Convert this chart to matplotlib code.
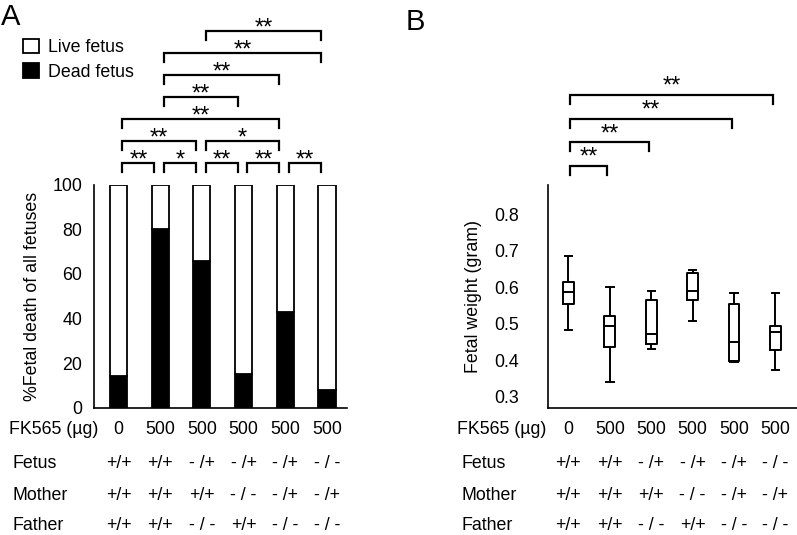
import matplotlib
matplotlib.use("Agg")
import matplotlib.pyplot as plt
import matplotlib.transforms as mtransforms

plt.rcParams['font.family'] = ['Liberation Sans', 'DejaVu Sans']

# ---------------- data ----------------
fk565 = ["0", "500", "500", "500", "500", "500"]
fetus = ["+/+", "+/+", "- /+", "- /+", "- /+", "- / -"]
mother = ["+/+", "+/+", "+/+", "- / -", "- /+", "- /+"]
father = ["+/+", "+/+", "- / -", "+/+", "- / -", "- / -"]

dead_pct = [14, 80, 66, 15, 43, 8]
live_pct = [100 - d for d in dead_pct]

# box plot statistics (fetal weight, gram)
w_whislo = [0.483, 0.341, 0.431, 0.508, 0.396, 0.373]
w_q1 = [0.553, 0.435, 0.444, 0.565, 0.399, 0.428]
w_med = [0.588, 0.494, 0.471, 0.591, 0.451, 0.476]
w_q3 = [0.614, 0.522, 0.565, 0.640, 0.554, 0.495]
w_whishi = [0.686, 0.600, 0.590, 0.647, 0.585, 0.583]

# significance comparisons (group i, group j, label), bottom to top
sig_a = [[(0, 1, "**"), (1, 2, "*"), (2, 3, "**"), (3, 4, "**"), (4, 5, "**")],
         [(0, 2, "**"), (2, 4, "*")],
         [(0, 4, "**")],
         [(1, 3, "**")],
         [(1, 4, "**")],
         [(1, 5, "**")],
         [(2, 5, "**")]]
sig_b = [[(0, 1, "**")], [(0, 2, "**")], [(0, 4, "**")], [(0, 5, "**")]]

# ---------------- figure ----------------
W, H = 797, 535
fig = plt.figure(figsize=(W / 100, H / 100), dpi=100)

def fx(px):
    return px / W

def fy(py):
    return 1 - py / H

FS = 12.8
STAR_FS = 17

axA = fig.add_axes([fx(94), fy(407.5), fx(347) - fx(94), fy(185) - fy(407.5)])
axB = fig.add_axes([fx(547.7), fy(407.7), 1 - fx(547.7), fy(185) - fy(407.7)])

xs = list(range(len(dead_pct)))

# ---- panel A ----
b_dead = axA.bar(xs, dead_pct, width=0.41, color="black", edgecolor="black",
                 linewidth=1.3, label="Dead fetus")
b_live = axA.bar(xs, live_pct, bottom=dead_pct, width=0.41, color="white",
                 edgecolor="black", linewidth=1.3, label="Live fetus")
axA.set_xlim(-0.59, 5.48)
axA.set_ylim(0, 100)
axA.set_yticks([0, 20, 40, 60, 80, 100])
axA.set_xticks([])
axA.tick_params(axis="y", length=0, pad=8.5, labelsize=FS)
axA.set_ylabel("%Fetal death of all fetuses", fontsize=FS, labelpad=8)
for s in ["top", "right"]:
    axA.spines[s].set_visible(False)
for s in ["left", "bottom"]:
    axA.spines[s].set_linewidth(1.2)

leg = axA.legend(handles=[b_live, b_dead], loc="upper left",
                 bbox_to_anchor=(fx(22.5), fy(39)), bbox_transform=fig.transFigure,
                 frameon=False, fontsize=FS, handlelength=0.95, handleheight=0.85,
                 handletextpad=0.5, labelspacing=0.4, borderpad=0, borderaxespad=0)

def draw_brackets(ax, rows, base, step, tick, loff, roff, star_off):
    for k, row in enumerate(rows):
        y = base + k * step
        for (i, j, lab) in row:
            x0, x1 = i + loff, j - roff
            ax.plot([x0, x0, x1, x1], [y - tick, y, y, y - tick], color="black",
                    linewidth=1.6, clip_on=False, solid_joinstyle="miter")
            ax.text((x0 + x1) / 2, y + star_off, lab, ha="center", va="center",
                    fontsize=STAR_FS, clip_on=False)

draw_brackets(axA, sig_a, base=110, step=9.9, tick=4.2, loff=0.09, roff=0.14,
              star_off=1.0)

# ---- panel B ----
stats = []
for i in range(len(w_med)):
    stats.append(dict(whislo=w_whislo[i], q1=w_q1[i], med=w_med[i],
                      q3=w_q3[i], whishi=w_whishi[i], fliers=[]))
lp = dict(color="black", linewidth=1.4)
axB.bxp(stats, positions=xs, widths=0.26, capwidths=0.18, showfliers=False,
        boxprops=lp, whiskerprops=lp, capprops=lp,
        medianprops=dict(color="black", linewidth=1.4), manage_ticks=False)
axB.set_xlim(-0.5, 5.52)
axB.set_ylim(0.27, 0.88)
axB.set_yticks([0.3, 0.4, 0.5, 0.6, 0.7, 0.8])
axB.set_yticklabels(["0.3", "0.4", "0.5", "0.6", "0.7", "0.8"])
axB.set_xticks([])
axB.tick_params(axis="y", length=0, pad=20.6, labelsize=FS)
axB.set_ylabel("Fetal weight (gram)", fontsize=FS, labelpad=9)
for s in ["top", "right"]:
    axB.spines[s].set_visible(False)
for s in ["left", "bottom"]:
    axB.spines[s].set_linewidth(1.2)

draw_brackets(axB, sig_b, base=0.932, step=0.065, tick=0.025, loff=0.04,
              roff=0.06, star_off=0.022)

# ---- tables under axes ----
row_names = ["Fetus", "Mother", "Father"]
row_vals = [fetus, mother, father]
row_y = [463, 495, 526]
for ax, lx_fk, lx_row in [(axA, 9, 13), (axB, 457, 461)]:
    tr = mtransforms.blended_transform_factory(ax.transData, fig.transFigure)
    fig.text(fx(lx_fk), fy(429), "FK565 (\u00b5g)", fontsize=FS, ha="left", va="center")
    for x, v in zip(xs, fk565):
        ax.text(x, fy(429), v, transform=tr, fontsize=FS, ha="center", va="center")
    for name, vals, yy in zip(row_names, row_vals, row_y):
        fig.text(fx(lx_row), fy(yy), name, fontsize=FS, ha="left", va="center")
        for x, v in zip(xs, vals):
            ax.text(x, fy(yy), v, transform=tr, fontsize=FS, ha="center", va="center")

fig.text(fx(1), fy(3), "A", fontsize=21, ha="left", va="top")
fig.text(fx(406), fy(8), "B", fontsize=21, ha="left", va="top")

fig.savefig("out.png", dpi=100)
